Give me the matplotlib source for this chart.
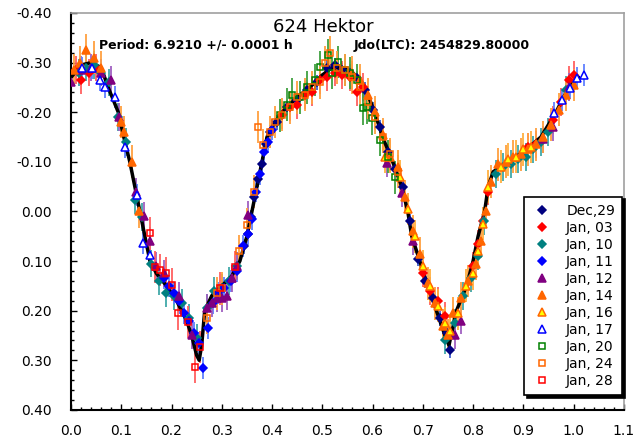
import numpy as np
import matplotlib
matplotlib.use("Agg")
import matplotlib.pyplot as plt
from matplotlib.lines import Line2D
from matplotlib.ticker import MultipleLocator, FormatStrFormatter

# fitted light curve (black line)
fit_ph = [0.00, 0.02, 0.04, 0.06, 0.074, 0.094, 0.105, 0.117, 0.127, 0.137, 0.147, 0.157, 0.17, 0.19,
          0.21, 0.23, 0.24, 0.25, 0.255, 0.26, 0.266, 0.28, 0.30, 0.32, 0.336, 0.35, 0.36, 0.37, 0.38,
          0.39, 0.40, 0.42, 0.45, 0.475, 0.50, 0.52, 0.54, 0.56, 0.575, 0.585, 0.604, 0.62, 0.64, 0.658,
          0.67, 0.678, 0.694, 0.71, 0.727, 0.744, 0.752, 0.767, 0.787, 0.80, 0.81, 0.823, 0.83, 0.84,
          0.87, 0.90, 0.935, 0.965, 0.99, 1.01]
fit_mag = [-0.27, -0.295, -0.300, -0.29, -0.25, -0.20, -0.15, -0.10, -0.05, 0.00, 0.05, 0.10, 0.125, 0.15,
           0.18, 0.22, 0.25, 0.29, 0.30, 0.27, 0.20, 0.17, 0.15, 0.13, 0.10, 0.05, 0.00, -0.05, -0.10,
           -0.15, -0.17, -0.20, -0.23, -0.25, -0.275, -0.29, -0.29, -0.28, -0.265, -0.25, -0.20, -0.15, -0.10, -0.05,
           0.00, 0.05, 0.10, 0.15, 0.20, 0.25, 0.27, 0.20, 0.15, 0.10, 0.05, 0.00, -0.05, -0.08,
           -0.10, -0.12, -0.15, -0.20, -0.25, -0.27]

# nightly observations: phase, relative magnitude, error
dec29_ph = [0.345, 0.352, 0.358, 0.365, 0.372, 0.380, 0.388, 0.396, 0.41, 0.43, 0.45, 0.47, 0.49, 0.51, 0.525,
            0.54, 0.555, 0.57, 0.585, 0.60, 0.615, 0.63, 0.645, 0.66, 0.675, 0.69, 0.705, 0.72, 0.735, 0.748, 0.755]
dec29_mag = [0.07, 0.045, 0.012, -0.03, -0.065, -0.095, -0.135, -0.16, -0.18, -0.21, -0.225, -0.245, -0.26, -0.29, -0.295,
             -0.285, -0.28, -0.268, -0.245, -0.205, -0.17, -0.12, -0.085, -0.05, 0.02, 0.095, 0.14, 0.175, 0.215, 0.245, 0.28]
dec29_err = 0.015

jan03_ph = [0.01, 0.02, 0.035, 0.05, 0.42, 0.435, 0.45, 0.465, 0.48, 0.495, 0.51, 0.525, 0.54, 0.555, 0.57, 0.58,
            0.70, 0.715, 0.73, 0.745, 0.80, 0.81, 0.82, 0.83, 0.91, 0.925, 0.96, 0.975, 0.99, 1.00]
jan03_mag = [-0.285, -0.265, -0.28, -0.29, -0.195, -0.21, -0.215, -0.235, -0.24, -0.265, -0.27, -0.28, -0.275, -0.27, -0.24, -0.25,
             0.125, 0.16, 0.18, 0.21, 0.11, 0.065, 0.02, -0.04, -0.13, -0.135, -0.185, -0.22, -0.265, -0.275]
jan03_err = 0.028

jan10_ph = [0.015, 0.03, 0.045, 0.06, 0.075, 0.094, 0.11, 0.127, 0.141, 0.16, 0.175, 0.19, 0.205, 0.22, 0.235, 0.25,
            0.27, 0.285, 0.30, 0.315, 0.33, 0.745, 0.765, 0.78, 0.795, 0.81, 0.822, 0.845, 0.86, 0.875, 0.89,
            0.905, 0.92, 0.935, 0.95, 0.985]
jan10_mag = [-0.28, -0.29, -0.295, -0.28, -0.26, -0.19, -0.14, -0.023, 0.011, 0.105, 0.14, 0.165, 0.17, 0.185, 0.215, 0.255,
             0.195, 0.16, 0.155, 0.14, 0.11, 0.26, 0.225, 0.17, 0.135, 0.09, 0.02, -0.075, -0.09, -0.095, -0.105,
             -0.11, -0.125, -0.14, -0.16, -0.245]
jan10_err = 0.028

jan11_ph = [0.185, 0.195, 0.205, 0.215, 0.225, 0.235, 0.245, 0.255, 0.262, 0.272, 0.282, 0.292, 0.305, 0.318, 0.33,
            0.342, 0.352, 0.36, 0.368, 0.376, 0.384, 0.392, 0.40]
jan11_mag = [0.135, 0.15, 0.165, 0.18, 0.205, 0.22, 0.245, 0.265, 0.315, 0.235, 0.185, 0.165, 0.155, 0.14, 0.12,
             0.07, 0.045, 0.015, -0.04, -0.075, -0.12, -0.14, -0.165]
jan11_err = 0.022

jan12_ph = [0.00, 0.02, 0.04, 0.06, 0.08, 0.095, 0.13, 0.145, 0.158, 0.17, 0.185, 0.215, 0.24, 0.27, 0.28, 0.29, 0.30,
            0.31, 0.32, 0.33, 0.352, 0.628, 0.658, 0.68, 0.765, 0.775, 0.94, 0.96, 0.99]
jan12_mag = [-0.26, -0.285, -0.29, -0.28, -0.265, -0.19, -0.04, 0.01, 0.06, 0.11, 0.125, 0.17, 0.25, 0.195, 0.185, 0.175, 0.175,
             0.17, 0.135, 0.11, 0.007, -0.098, -0.037, 0.06, 0.25, 0.22, -0.145, -0.17, -0.25]
jan12_err = 0.028

jan14_ph = [0.005, 0.018, 0.03, 0.045, 0.06, 0.10, 0.105, 0.122, 0.135, 0.56, 0.575, 0.59, 0.605, 0.62, 0.635, 0.65,
            0.665, 0.68, 0.695, 0.71, 0.725, 0.74, 0.75, 0.76, 0.775, 0.79, 0.805, 0.815, 0.825, 0.835, 0.85,
            0.865, 0.88, 0.895, 0.91, 0.925, 0.94, 0.955, 0.97, 0.985, 1.00]
jan14_mag = [-0.285, -0.30, -0.325, -0.31, -0.29, -0.18, -0.16, -0.10, 0.00, -0.28, -0.265, -0.235, -0.20, -0.155, -0.11, -0.09,
             -0.03, 0.04, 0.085, 0.145, 0.185, 0.23, 0.25, 0.205, 0.175, 0.14, 0.105, 0.06, 0.00, -0.06, -0.095,
             -0.10, -0.11, -0.115, -0.125, -0.135, -0.15, -0.175, -0.205, -0.235, -0.255]
jan14_err = 0.033

jan16_ph = [0.625, 0.655, 0.67, 0.685, 0.70, 0.715, 0.73, 0.745, 0.755, 0.77, 0.785, 0.80, 0.81, 0.82, 0.83,
            0.855, 0.87, 0.885, 0.90, 0.915]
jan16_mag = [-0.11, -0.07, -0.005, 0.05, 0.11, 0.15, 0.19, 0.225, 0.24, 0.205, 0.15, 0.125, 0.08, 0.025, -0.05,
             -0.09, -0.105, -0.11, -0.125, -0.13]
jan16_err = 0.033

jan17_ph = [0.021, 0.041, 0.058, 0.068, 0.087, 0.107, 0.131, 0.144, 0.157, 0.962, 0.976, 0.992, 1.006, 1.02]
jan17_mag = [-0.289, -0.289, -0.265, -0.25, -0.23, -0.13, -0.033, 0.064, 0.088, -0.198, -0.225, -0.249, -0.269, -0.275]
jan17_err = 0.022

jan20_ph = [0.415, 0.43, 0.44, 0.455, 0.47, 0.485, 0.495, 0.511, 0.52, 0.531, 0.545, 0.555, 0.57, 0.581, 0.588,
            0.598, 0.614, 0.63, 0.644]
jan20_mag = [-0.194, -0.215, -0.235, -0.23, -0.25, -0.265, -0.291, -0.315, -0.28, -0.301, -0.285, -0.279, -0.265, -0.208, -0.21,
             -0.188, -0.144, -0.11, -0.069]
jan20_err = 0.033

jan24_ph = [0.27, 0.29, 0.30, 0.335, 0.35, 0.365, 0.373, 0.382, 0.395, 0.405, 0.42, 0.435, 0.45, 0.465, 0.48, 0.495,
            0.505, 0.515, 0.53, 0.545, 0.56, 0.575, 0.59, 0.605, 0.62, 0.635, 0.65]
jan24_mag = [0.215, 0.165, 0.155, 0.08, 0.027, -0.04, -0.17, -0.134, -0.16, -0.18, -0.195, -0.21, -0.23, -0.235, -0.25, -0.26,
             -0.30, -0.32, -0.29, -0.285, -0.27, -0.25, -0.22, -0.19, -0.15, -0.115, -0.08]
jan24_err = 0.033

jan28_ph = [0.157, 0.167, 0.177, 0.189, 0.20, 0.213, 0.233, 0.247, 0.256, 0.296, 0.326]
jan28_mag = [0.044, 0.112, 0.118, 0.125, 0.148, 0.205, 0.223, 0.313, 0.273, 0.155, 0.112]
jan28_err = 0.033

labels = ["Dec,29", "Jan, 03", "Jan, 10", "Jan, 11", "Jan, 12", "Jan, 14", "Jan, 16",
          "Jan, 17", "Jan, 20", "Jan, 24", "Jan, 28"]

# x, y, err, marker, size, face, edge, errcolor
series = [
    (dec29_ph, dec29_mag, dec29_err, 'D', 3.8, '#000080', '#000080', '#4060d0'),
    (jan03_ph, jan03_mag, jan03_err, 'D', 3.8, '#ff0000', '#ff0000', '#ff6060'),
    (jan10_ph, jan10_mag, jan10_err, 'D', 3.8, '#008080', '#008080', '#40a8a8'),
    (jan11_ph, jan11_mag, jan11_err, 'D', 3.8, '#0000ff', '#0000ff', '#6080ff'),
    (jan12_ph, jan12_mag, jan12_err, '^', 5.5, '#800080', '#800080', '#a060c0'),
    (jan14_ph, jan14_mag, jan14_err, '^', 5.5, '#ff6600', '#ff6600', '#ffa040'),
    (jan16_ph, jan16_mag, jan16_err, '^', 5.5, '#ffff00', '#ff6600', '#ffb040'),
    (jan17_ph, jan17_mag, jan17_err, '^', 5.5, 'white', '#0000ff', '#6080ff'),
    (jan20_ph, jan20_mag, jan20_err, 's', 5, 'none', '#008000', '#40a040'),
    (jan24_ph, jan24_mag, jan24_err, 's', 5, 'none', '#ff6600', '#ffa040'),
    (jan28_ph, jan28_mag, jan28_err, 's', 5, 'none', '#ff0000', '#ff6060'),
]

fig = plt.figure(figsize=(6.34, 4.47), dpi=100)
ax = fig.add_axes([0.112, 0.083, 0.872, 0.888])

ax.plot(fit_ph, fit_mag, color='black', lw=2.5, zorder=3)

handles = []
for (x, y, e, m, ms, fc, ec, erc), lab in zip(series, labels):
    ax.errorbar(x, y, yerr=e, fmt='none', ecolor=erc, elinewidth=1.3, capsize=0, zorder=2)
    ax.plot(x, y, ls='none', marker=m, ms=ms, mfc=fc, mec=ec, mew=1.1, zorder=4)
    handles.append(Line2D([], [], ls='none', marker=m, ms=ms, mfc=fc, mec=ec, mew=1.1, label=lab))

ax.set_xlim(0, 1.1)
ax.set_ylim(0.40, -0.40)
ax.xaxis.set_major_locator(MultipleLocator(0.1))
ax.xaxis.set_minor_locator(MultipleLocator(0.02))
ax.yaxis.set_major_locator(MultipleLocator(0.1))
ax.yaxis.set_minor_locator(MultipleLocator(0.02))
ax.xaxis.set_major_formatter(FormatStrFormatter('%.1f'))
ax.yaxis.set_major_formatter(FormatStrFormatter('%.2f'))
ax.tick_params(which='both', direction='in', labelsize=10, top=False, right=False)
ax.tick_params(which='major', length=4, width=1)
ax.tick_params(which='minor', length=2.5, width=1)
ax.tick_params(axis='x', pad=10)
ax.tick_params(axis='y', pad=14)
for s in ['left', 'bottom']:
    ax.spines[s].set_linewidth(1.5)
    ax.spines[s].set_color('black')
for s in ['top', 'right']:
    ax.spines[s].set_color('#a0a0a0')
    ax.spines[s].set_linewidth(1.2)

ax.text(0.456, 0.965, "624 Hektor", transform=ax.transAxes, ha='center', va='center', fontsize=13)
ax.text(0.05, 0.919, "Period: 6.9210 +/- 0.0001 h", transform=ax.transAxes, ha='left', va='center',
        fontsize=9, fontweight='bold')
ax.text(0.512, 0.919, "Jdo(LTC): 2454829.80000", transform=ax.transAxes, ha='left', va='center',
        fontsize=9, fontweight='bold')

leg = ax.legend(handles=handles, loc='lower right', bbox_to_anchor=(0.981, 0.116),
                bbox_transform=fig.transFigure, borderaxespad=0, fontsize=10, frameon=True,
                fancybox=False, shadow={'color': 'black', 'alpha': 1}, edgecolor='black',
                labelspacing=0.22, handletextpad=1.0, handlelength=1.5, borderpad=0.5)
leg.get_frame().set_linewidth(1.2)
leg.set_zorder(10)

plt.savefig("out.png", dpi=100)
